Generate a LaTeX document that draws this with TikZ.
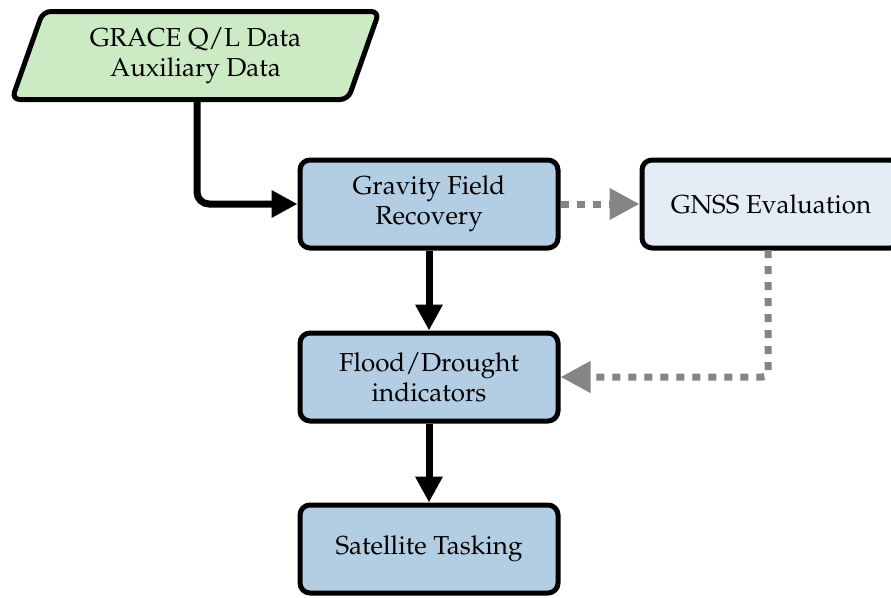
\documentclass[tikz,border=0pt]{standalone}
\usepackage[T1]{fontenc}
\usepackage{mathpazo}
\usetikzlibrary{arrows.meta,shapes.geometric}
\definecolor{inputgreen}{HTML}{CCEBC5}
\definecolor{procblue}{HTML}{B3CDE3}
\definecolor{lightblue}{HTML}{E4EDF6}
\definecolor{dotgray}{HTML}{858585}
\tikzset{
  boxnode/.style={draw=black, line width=5pt, rounded corners=10pt, fill=procblue,
    minimum width=258pt, minimum height=88pt, align=center, inner sep=0pt,
    font=\fontsize{26}{30}\selectfont},
  evalnode/.style={boxnode, fill=lightblue},
  datanode/.style={draw=black, line width=5pt, rounded corners=8pt, fill=inputgreen,
    trapezium, trapezium left angle=69, trapezium right angle=111,
    trapezium stretches=true,
    minimum width=368pt, minimum height=88pt, align=center, inner sep=0pt,
    font=\fontsize{26}{30}\selectfont},
  mainflow/.style={draw=black, line width=7pt, rounded corners=12pt,
    -{Triangle[length=26pt,width=26pt]}},
  sideflow/.style={draw=dotgray, line width=7pt, rounded corners=6pt,
    dash pattern=on 8pt off 8pt,
    -{Triangle[length=30pt,width=30pt]}}
}
\begin{document}
\begin{tikzpicture}[x=1pt,y=-1pt]
\useasboundingbox (0,0) rectangle (891,597);
\node[datanode] (data) at (195.5,55.5) {GRACE Q/L Data\\Auxiliary Data};
\node[boxnode] (grav) at (429,204) {Gravity Field\\Recovery};
\node[evalnode] (gnss) at (771,204) {GNSS Evaluation};
\node[boxnode] (flood) at (429,377) {Flood/Drought\\indicators};
\node[boxnode] (sat) at (429,549) {Satellite Tasking};
\coordinate (dstart) at (197,101);
\coordinate (gstart) at (768,250);
\draw[mainflow] (dstart) |- (grav.west);
\draw[mainflow] (grav.south) -- (flood.north);
\draw[mainflow] (flood.south) -- (sat.north);
\draw[sideflow] (grav.east) -- (gnss.west);
\draw[sideflow] (gstart) |- (flood.east);
\end{tikzpicture}
\end{document}
